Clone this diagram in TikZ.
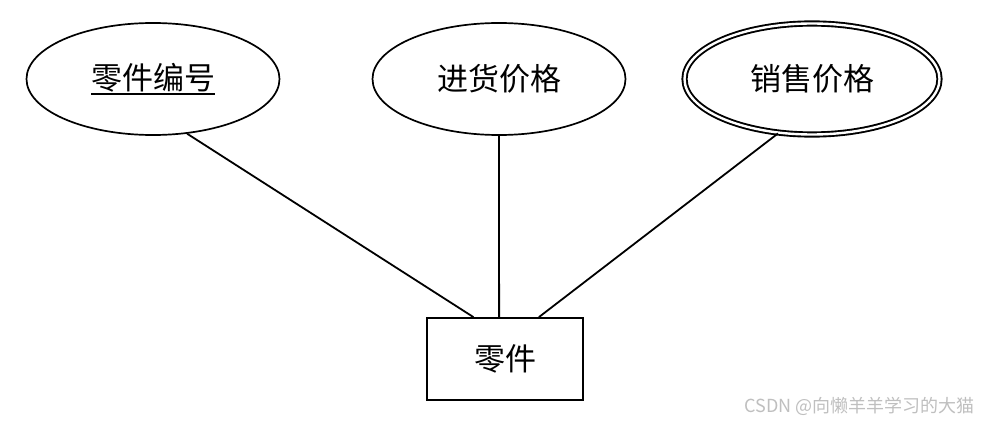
\documentclass[tikz,border=0pt]{standalone}
\usepackage{fontspec}
\setmainfont{Noto Sans CJK SC}
\newfontfamily\cjk{Noto Sans CJK SC}
\usetikzlibrary{shapes.geometric}
\newcommand\ulbox[1]{\setbox0\hbox{#1}\rlap{\rule[-5.5pt]{\wd0}{1.7pt}}\box0}
\tikzset{
  attr/.style={ellipse,draw,line width=1.7pt,inner sep=0pt,minimum width=253pt,minimum height=112pt,font=\cjk\fontsize{31}{36}\selectfont},
  multiattr/.style={attr,double,double distance=2.4pt,line width=1.9pt,minimum width=255pt,minimum height=111pt},
  entity/.style={rectangle,draw,line width=1.8pt,inner sep=0pt,minimum width=156pt,minimum height=82pt,font=\cjk\fontsize{31}{36}\selectfont},
  link/.style={line width=1.8pt},
  wmark/.style={font=\cjk\fontsize{18}{21}\selectfont,text=black!25}
}
\begin{document}
\begin{tikzpicture}[x=1pt,y=-1pt]
\useasboundingbox[fill=white] (0,0) rectangle (981,425);
\node[attr] (e1) at (153,79) {\ulbox{零件编号}};
\node[attr] (e2) at (499,79) {进货价格};
\node[multiattr] (e3) at (812,79) {销售价格};
\node[entity] (r) at (505,359) {零件};
\draw[link] (e1.-58) -- (r.127);
\draw[link] (e2.south) -- (r.98);
\draw[link] (e3.238.7) -- (r.51.2);
\node[wmark,anchor=east] (wm) at (978,406) {CSDN @向懒羊羊学习的大猫};
\end{tikzpicture}
\end{document}
